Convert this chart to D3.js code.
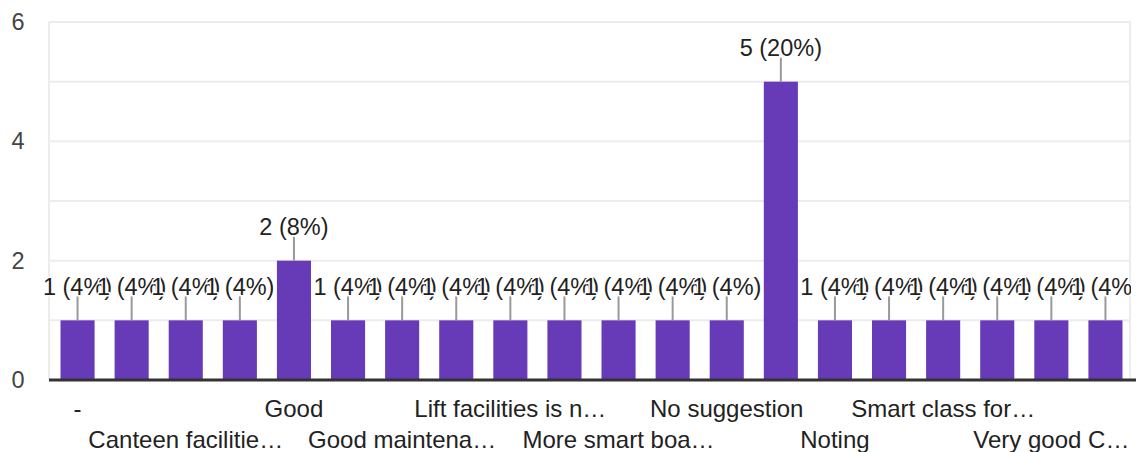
<!DOCTYPE html>
<html>
<head>
<meta charset="utf-8">
<script src="https://cdn.jsdelivr.net/npm/d3@7"></script>
<style>
  html, body { margin: 0; padding: 0; background: #fff; }
  svg { display: block; font-family: "Liberation Sans", Arial, sans-serif; }
</style>
</head>
<body>
<svg id="chart" width="1136" height="452"></svg>
<script>
// Responses per answer (alphabetical order of answers)
const categories = [
  "-", "All good", "Canteen facilitie…", "Excellent", "Good",
  "Good facilities", "Good maintena…", "Improve library", "Lift facilities is n…", "Maintain cleanliness",
  "More smart boa…", "Nil", "No suggestion", "Nothing", "Noting",
  "Playground", "Smart class for…", "Sports facilities", "Very good C…", "Very nice"
];
const counts = [1, 1, 1, 1, 2, 1, 1, 1, 1, 1, 1, 1, 1, 5, 1, 1, 1, 1, 1, 1];
const yTicks = [0, 2, 4, 6];
const yGrid = [0, 1, 2, 3, 4, 5, 6];

(function draw() {
  const total = d3.sum(counts);
  const svg = d3.select("#chart");

  const plotLeft = 49, plotRight = 1131, plotTop = 22, plotBottom = 380;

  const x = d3.scaleBand()
    .domain(categories)
    .range([plotLeft + 1.5, plotRight + 1.5])
    .paddingInner(0.37)
    .paddingOuter(0.185);

  const y = d3.scaleLinear().domain([0, 6]).range([plotBottom, plotTop]);

  // horizontal gridlines
  svg.append("g").selectAll("line")
    .data(yGrid.filter(v => v !== 0))
    .join("line")
    .attr("x1", plotLeft).attr("x2", plotRight)
    .attr("y1", d => y(d)).attr("y2", d => y(d))
    .attr("stroke", "#ececec").attr("stroke-width", 2);

  // vertical frame lines
  svg.append("g").selectAll("line")
    .data([plotLeft, plotRight - 1])
    .join("line")
    .attr("x1", d => d).attr("x2", d => d)
    .attr("y1", plotTop).attr("y2", plotBottom)
    .attr("stroke", "#ececec").attr("stroke-width", 2);

  // y axis labels
  const yAxis = d3.axisLeft(y).tickValues(yTicks).tickSize(0).tickPadding(0).tickFormat(d3.format("d"));
  const yg = svg.append("g").attr("transform", `translate(${plotLeft - 24.5},0)`).call(yAxis);
  yg.select(".domain").remove();
  yg.selectAll("text")
    .attr("font-size", 23.5)
    .attr("fill", "#444")
    .attr("font-family", "Liberation Sans, Arial, sans-serif");

  // bars
  svg.append("g").selectAll("rect")
    .data(categories)
    .join("rect")
    .attr("x", d => x(d))
    .attr("width", x.bandwidth())
    .attr("y", (d, i) => y(counts[i]))
    .attr("height", (d, i) => y(0) - y(counts[i]))
    .attr("fill", "#673ab7");

  // baseline
  svg.append("line")
    .attr("x1", plotLeft).attr("x2", 1136)
    .attr("y1", y(0)).attr("y2", y(0))
    .attr("stroke", "#333").attr("stroke-width", 3);

  // value annotations with leader lines
  const clip = svg.append("defs").append("clipPath").attr("id", "plot-clip");
  clip.append("rect").attr("x", 0).attr("y", 0).attr("width", plotRight).attr("height", plotBottom);

  const ann = svg.append("g").attr("clip-path", "url(#plot-clip)");
  ann.selectAll("line")
    .data(categories)
    .join("line")
    .attr("x1", d => x(d) + x.bandwidth() / 2)
    .attr("x2", d => x(d) + x.bandwidth() / 2)
    .attr("y1", (d, i) => y(counts[i]))
    .attr("y2", (d, i) => y(counts[i]) - 24)
    .attr("stroke", "#999").attr("stroke-width", 2);

  ann.selectAll("text")
    .data(categories)
    .join("text")
    .attr("x", d => x(d) + x.bandwidth() / 2)
    .attr("y", (d, i) => y(counts[i]) - 25.5)
    .attr("text-anchor", "middle")
    .attr("font-size", 23.5)
    .attr("fill", "#222")
    .attr("stroke", "#fff")
    .attr("stroke-width", 3)
    .attr("stroke-linejoin", "round")
    .attr("paint-order", "stroke")
    .text((d, i) => `${counts[i]} (${Math.round(counts[i] / total * 100)}%)`);

  // category labels: every other answer, staggered over two rows
  svg.append("g").selectAll("text")
    .data(categories.filter((d, i) => i % 2 === 0))
    .join("text")
    .attr("x", d => x(d) + x.bandwidth() / 2)
    .attr("y", (d, i) => i % 2 === 0 ? 417 : 448)
    .attr("text-anchor", "middle")
    .attr("font-size", 24)
    .attr("fill", "#222")
    .text(d => d);
})();
</script>
</body>
</html>
